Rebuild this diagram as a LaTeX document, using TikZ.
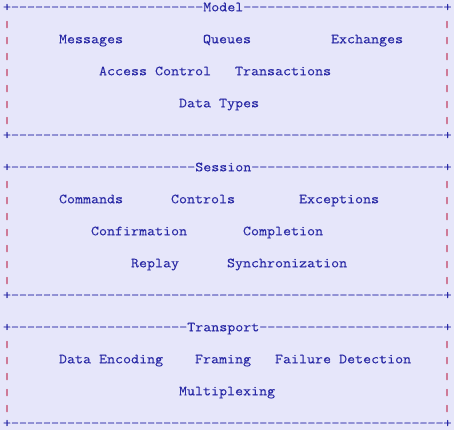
\documentclass[tikz,border=0pt]{standalone}
\usepackage{fontspec}
\newfontfamily\mono{Latin Modern Mono}[FakeStretch=1.111,FakeBold=0.12]
\newfontfamily\barfont{Latin Modern Mono}[FakeBold=3]
\definecolor{bgcol}{RGB}{230,230,250}
\definecolor{ink}{RGB}{40,40,165}
\definecolor{bar}{RGB}{190,45,80}
% character grid: column #1, line #2 (base line of the text row)
\newcommand\cellpos[2]{({3+8*(#1)},{-(11.3+16*(#2))})}
\newcommand\cellmid[2]{({7+8*(#1)},{-(11.3+16*(#2))})}
\newcommand\dashrun[1]{\foreach \k in {1,...,#1}{-}}
\begin{document}
\begin{tikzpicture}[x=1pt,y=1pt,
  txt/.style={anchor=base west,inner sep=0pt,outer sep=0pt,text=ink,
    font=\mono\fontsize{14}{16}\selectfont},
  pipe/.style={anchor=base,inner sep=0pt,outer sep=0pt,text=bar,
    font=\barfont\fontsize{9}{10}\selectfont}]
\fill[bgcol] (0,0) rectangle (454,-430);
\useasboundingbox (0,0) rectangle (454,-430);

% ---------- Model ----------
\node[txt] (modeltop) at \cellpos{0}{0} {+\dashrun{24}Model\dashrun{25}+};
\foreach \r in {1,...,7}{
  \node[pipe] (ml\r) at \cellmid{0}{\r} {|};
  \node[pipe] (mr\r) at \cellmid{55}{\r} {|};
}
\node[txt] (messages) at \cellpos{7}{2} {Messages};
\node[txt] (queues) at \cellpos{25}{2} {Queues};
\node[txt] (exchanges) at \cellpos{41}{2} {Exchanges};
\node[txt] (access) at \cellpos{12}{4} {Access Control};
\node[txt] (transactions) at \cellpos{29}{4} {Transactions};
\node[txt] (datatypes) at \cellpos{22}{6} {Data Types};
\node[txt] (modelbot) at \cellpos{0}{8} {+\dashrun{54}+};

% ---------- Session ----------
\node[txt] (sessiontop) at \cellpos{0}{10} {+\dashrun{23}Session\dashrun{24}+};
\foreach \r in {11,...,17}{
  \node[pipe] (sl\r) at \cellmid{0}{\r} {|};
  \node[pipe] (sr\r) at \cellmid{55}{\r} {|};
}
\node[txt] (commands) at \cellpos{7}{12} {Commands};
\node[txt] (controls) at \cellpos{21}{12} {Controls};
\node[txt] (exceptions) at \cellpos{37}{12} {Exceptions};
\node[txt] (confirmation) at \cellpos{11}{14} {Confirmation};
\node[txt] (completion) at \cellpos{30}{14} {Completion};
\node[txt] (replay) at \cellpos{16}{16} {Replay};
\node[txt] (sync) at \cellpos{28}{16} {Synchronization};
\node[txt] (sessionbot) at \cellpos{0}{18} {+\dashrun{54}+};

% ---------- Transport ----------
\node[txt] (transporttop) at \cellpos{0}{20} {+\dashrun{22}Transport\dashrun{23}+};
\foreach \r in {21,...,25}{
  \node[pipe] (tl\r) at \cellmid{0}{\r} {|};
  \node[pipe] (tr\r) at \cellmid{55}{\r} {|};
}
\node[txt] (encoding) at \cellpos{7}{22} {Data Encoding};
\node[txt] (framing) at \cellpos{24}{22} {Framing};
\node[txt] (failure) at \cellpos{34}{22} {Failure Detection};
\node[txt] (multiplexing) at \cellpos{22}{24} {Multiplexing};
\node[txt] (transportbot) at \cellpos{0}{26} {+\dashrun{54}+};
\end{tikzpicture}
\end{document}
